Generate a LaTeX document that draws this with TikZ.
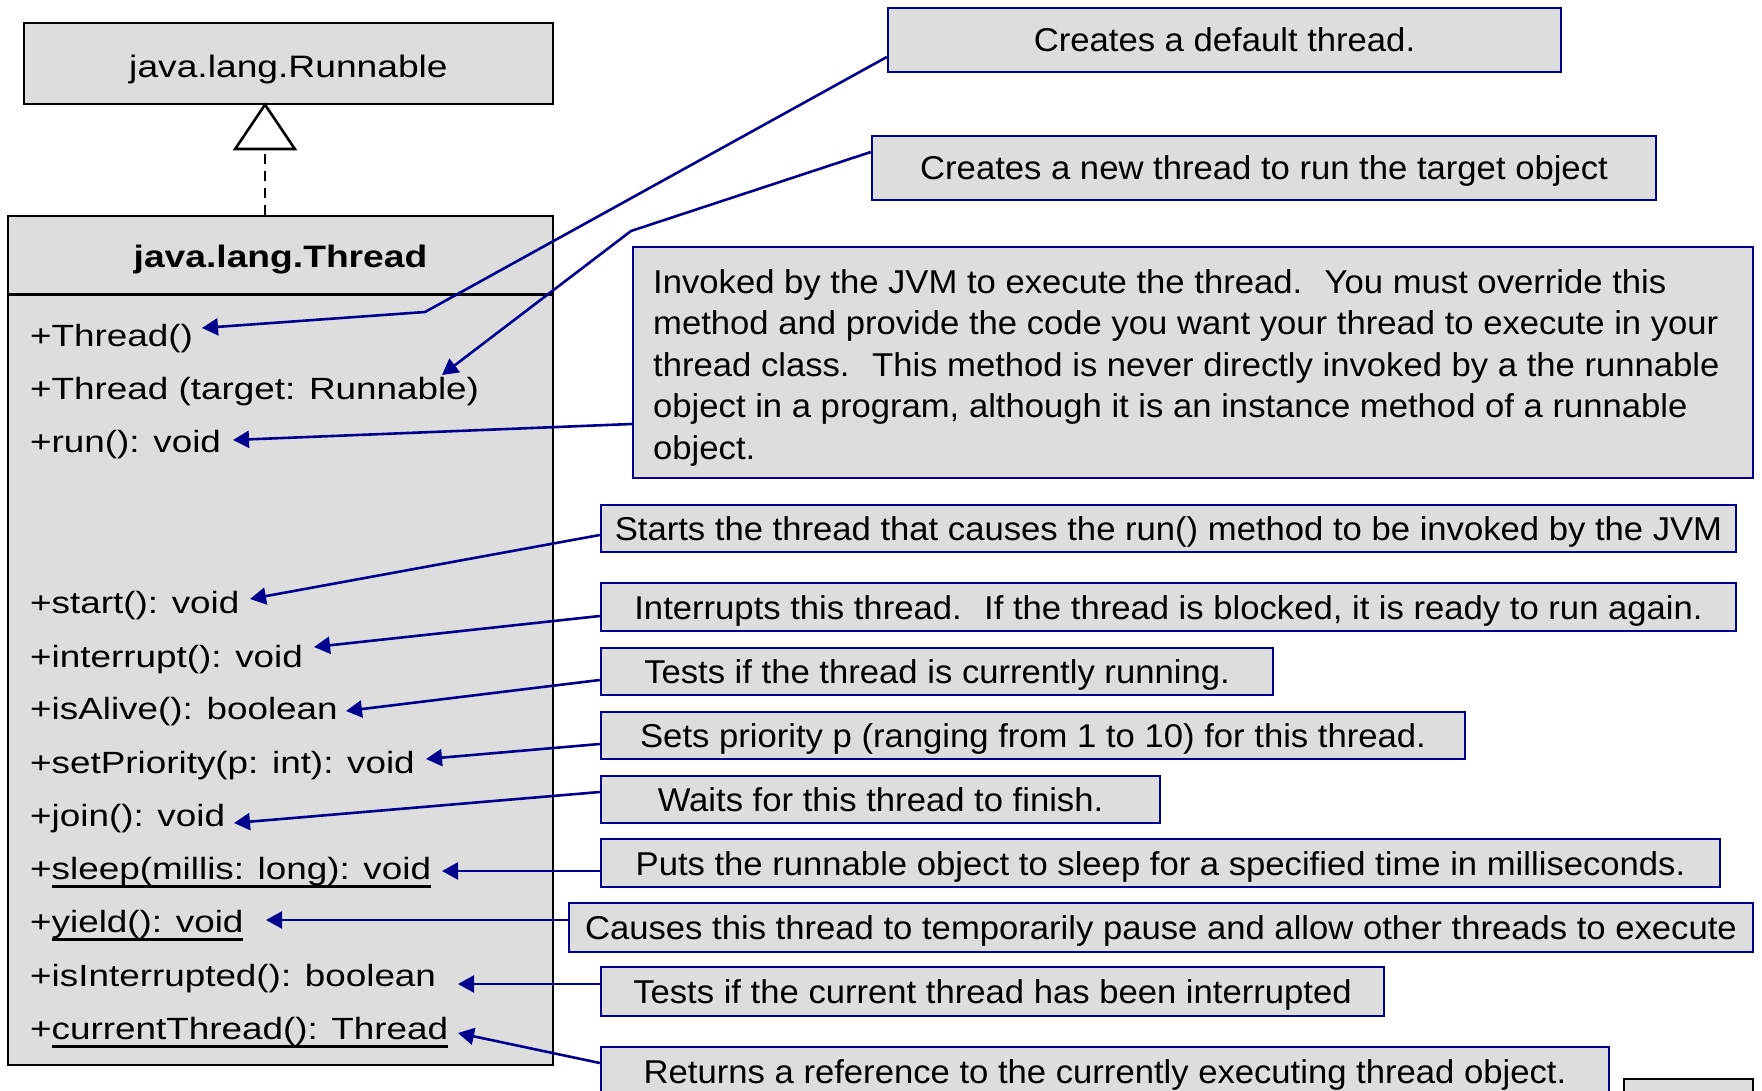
\documentclass[tikz,border=0pt]{standalone}
\usepackage{fontspec}
\setmainfont{Liberation Sans}
\newfontfamily\methfont[FakeStretch=1.2]{Liberation Sans}
\newfontfamily\callfont[FakeStretch=1.05]{Liberation Sans}
\usetikzlibrary{arrows.meta}
\definecolor{boxgray}{RGB}{221,221,221}
\definecolor{navyline}{RGB}{0,0,140}
\newcommand\ulx[1]{\setbox0=\hbox{#1}\rlap{\rule[-9pt]{\wd0}{3pt}}\box0}
\begin{document}
\begin{tikzpicture}[x=1pt,y=-1pt,
  umlbox/.style={draw=black, fill=boxgray, line width=2.6pt, inner sep=0pt},
  callbox/.style={draw=navyline, fill=boxgray, line width=2.4pt, inner sep=0pt, text height=24pt, text depth=0pt, font=\callfont\fontsize{33}{41.6}\selectfont},
  meth/.style={anchor=base west, inner sep=0pt, font=\methfont\fontsize{30.7}{36}\selectfont},
  conn/.style={draw=navyline, line width=2.6pt, -{Triangle[length=16pt,width=17pt]}},
  impl/.style={draw=black, line width=2.6pt, dash pattern=on 10pt off 7pt, shorten >=-3pt, -{Triangle[open,fill=white,length=48pt,width=64pt]}}
]
\useasboundingbox (0,0) rectangle (1762,1091);
\clip (0,0) rectangle (1762,1091);
\fill[white] (0,0) rectangle (1762,1091);

% UML classes
\node[umlbox, minimum width=529pt, minimum height=81pt, text height=29pt, text depth=0pt, font=\methfont\fontsize{31}{36}\selectfont] (runnable) at (288.5,63.5) {java.lang.Runnable};
\node[umlbox, minimum width=545pt, minimum height=849pt] (thread) at (280.5,640.5) {};
\draw[line width=2.6pt] ([yshift=-80pt]thread.north west) -- ([yshift=-80pt]thread.north east);
\node[anchor=base, inner sep=0pt, font=\methfont\bfseries\fontsize{31}{36}\selectfont] (ttitle) at (280.5,268) {java.lang.Thread};

\coordinate (tri) at (265,0);
\draw[impl] (thread.north -| tri) -- (runnable.south -| tri);

% methods
\node[meth] (m1) at (30,346) {+Thread()};
\node[meth] (m2) at (30,399) {+Thread (target: Runnable)};
\node[meth] (m3) at (30,452) {+run(): void};
\node[meth] (m4) at (30,613) {+start(): void};
\node[meth] (m5) at (30,667) {+interrupt(): void};
\node[meth] (m6) at (30,719) {+isAlive(): boolean};
\node[meth] (m7) at (30,773) {+setPriority(p: int): void};
\node[meth] (m8) at (30,826) {+join(): void};
\node[meth] (m9) at (30,879) {+\ulx{sleep(millis: long): void}};
\node[meth] (m10) at (30,932) {+\ulx{yield(): void}};
\node[meth] (m11) at (30,986) {+isInterrupted(): boolean};
\node[meth] (m12) at (30,1039) {+\ulx{currentThread(): Thread}};

% callouts
\node[callbox, minimum width=673pt, minimum height=64pt] (b1) at (1224.5,40) {Creates a default thread.};
\node[callbox, minimum width=784pt, minimum height=64pt] (b2) at (1264,168) {Creates a new thread to run the target object};
\node[callbox, minimum width=1120pt, minimum height=231pt] (b3) at (1193,362.5) {};
\node[anchor=base west, inner sep=0pt, align=left, font=\callfont\fontsize{33}{41.6}\selectfont] (b3t) at (653,459.4) {Invoked by the JVM to execute the thread.~ You must override this\\method and provide the code you want your thread to execute in your\\thread class.~ This method is never directly invoked by a the runnable\\object in a program, although it is an instance method of a runnable\\object.};
\node[callbox, minimum width=1135pt, minimum height=47pt] (b4) at (1168.5,528.5) {Starts the thread that causes the run() method to be invoked by the JVM};
\node[callbox, minimum width=1135pt, minimum height=48pt] (b5) at (1168.5,607) {Interrupts this thread.~ If the thread is blocked, it is ready to run again.};
\node[callbox, minimum width=672pt, minimum height=47pt] (b6) at (937,671.5) {Tests if the thread is currently running.};
\node[callbox, minimum width=864pt, minimum height=47pt] (b7) at (1033,735.5) {Sets priority p (ranging from 1 to 10) for this thread.};
\node[callbox, minimum width=559pt, minimum height=47pt] (b8) at (880.5,799.5) {Waits for this thread to finish.};
\node[callbox, minimum width=1119pt, minimum height=48pt] (b9) at (1160.5,863) {Puts the runnable object to sleep for a specified time in milliseconds.};
\node[callbox, minimum width=1184pt, minimum height=49pt] (b10) at (1161,927.5) {Causes this thread to temporarily pause and allow other threads to execute};
\node[callbox, minimum width=783pt, minimum height=49pt] (b11) at (992.5,991.5) {Tests if the current thread has been interrupted};
\node[callbox, minimum width=1008pt, minimum height=48pt] (b12) at (1105,1071) {Returns a reference to the currently executing thread object.};
\node[umlbox, minimum width=129pt, minimum height=40pt] (b13) at (1688.5,1099) {};

% connectors
\coordinate (k1) at (425,312);
\coordinate (k2) at (631,231);
\coordinate (t1) at (202,328);
\coordinate (t2) at (442,375);
\coordinate (t3) at (233,440);
\coordinate (t4) at (250,599);
\coordinate (t5) at (314,647);
\coordinate (t6) at (346,711);
\coordinate (t7) at (426,759);
\coordinate (t8) at (234,823);
\coordinate (t9) at (442,871);
\coordinate (t10) at (266,920);
\coordinate (t11) at (458,984);
\coordinate (t12) at (458,1033);
\draw[conn] ([yshift=-17pt]b1.west) -- (k1) -- (t1);
\draw[conn] ([yshift=16pt]b2.west) -- (k2) -- (t2);
\draw[conn] ([yshift=-61.5pt]b3.west) -- (t3);
\draw[conn] ([yshift=-6.5pt]b4.west) -- (t4);
\draw[conn] ([yshift=-9pt]b5.west) -- (t5);
\draw[conn] ([yshift=-8.5pt]b6.west) -- (t6);
\draw[conn] ([yshift=-8.5pt]b7.west) -- (t7);
\draw[conn] ([yshift=7.5pt]b8.west) -- (t8);
\draw[conn] ([yshift=-8pt]b9.west) -- (t9);
\draw[conn] ([yshift=7.5pt]b10.west) -- (t10);
\draw[conn] ([yshift=7.5pt]b11.west) -- (t11);
\draw[conn] ([yshift=8pt]b12.west) -- (t12);
\end{tikzpicture}
\end{document}
